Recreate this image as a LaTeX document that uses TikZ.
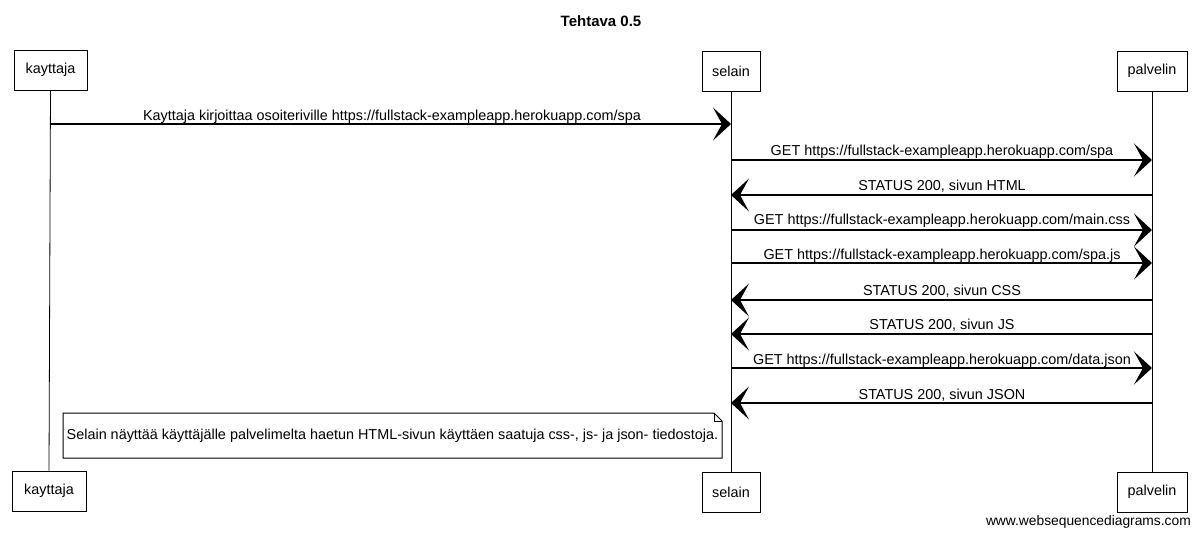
\documentclass[tikz,border=0pt]{standalone}
\usepackage{fontspec}
\setmainfont{Liberation Sans}
\usetikzlibrary{arrows.meta}
\begin{document}
\begin{tikzpicture}[x=1pt,y=-1pt,
  txt/.style={font=\fontsize{14.4}{16}\selectfont, inner sep=0pt},
  part/.style={txt, draw, line width=1pt, minimum height=40pt},
  life/.style={line width=0.8pt},
  msg/.style={line width=1.1pt, -{Stealth[length=18pt,width=33pt,inset=9pt]}},
  lbl/.style={txt, anchor=base},
  notebox/.style={line width=1pt}]
\useasboundingbox (0,0) rectangle (1200,536);

\node[txt, font=\fontsize{15}{17}\selectfont\bfseries, anchor=base] (title) at (601,26) {Tehtava 0.5};

% participants
\node[part, minimum width=73pt] (kt) at (50.5,70) {kayttaja};
\node[part, minimum width=58pt] (st) at (731,71) {selain};
\node[part, minimum width=70pt] (pt) at (1152,71) {palvelin};
\node[part, minimum width=74pt] (kb) at (49,491) {kayttaja};
\node[part, minimum width=58pt] (sb) at (731,492) {selain};
\node[part, minimum width=70pt] (pb) at (1152,492) {palvelin};

% lifelines
\draw[life] (kt.south) -- (kb.north);
\draw[life] (st.south) -- (sb.north);
\draw[life] (pt.south) -- (pb.north);

% message endpoints
\coordinate (k1) at (51,124);   \coordinate (s1) at (731,124);
\foreach \i/\y in {2/160,3/195,4/230,5/263,6/300,7/334,8/368,9/403}{
  \coordinate (s\i) at (731,\y);
  \coordinate (p\i) at (1152,\y);
}

\draw[msg] (k1) -- (s1);
\node[lbl] (l1) at (392,120) {Kayttaja kirjoittaa osoiteriville https://fullstack-exampleapp.herokuapp.com/spa};

\draw[msg] (s2) -- (p2);
\node[lbl] (l2) at (942,155) {GET https://fullstack-exampleapp.herokuapp.com/spa};
\draw[msg] (p3) -- (s3);
\node[lbl] (l3) at (942,190) {STATUS 200, sivun HTML};
\draw[msg] (s4) -- (p4);
\node[lbl] (l4) at (942,224) {GET https://fullstack-exampleapp.herokuapp.com/main.css};
\draw[msg] (s5) -- (p5);
\node[lbl] (l5) at (942,259) {GET https://fullstack-exampleapp.herokuapp.com/spa.js};
\draw[msg] (p6) -- (s6);
\node[lbl] (l6) at (942,295) {STATUS 200, sivun CSS};
\draw[msg] (p7) -- (s7);
\node[lbl] (l7) at (942,329) {STATUS 200, sivun JS};
\draw[msg] (s8) -- (p8);
\node[lbl] (l8) at (942,364) {GET https://fullstack-exampleapp.herokuapp.com/data.json};
\draw[msg] (p9) -- (s9);
\node[lbl] (l9) at (942,399) {STATUS 200, sivun JSON};

% note
\draw[notebox, fill=white] (63,413) -- (714,413) -- (722,421) -- (722,458) -- (63,458) -- cycle;
\draw[notebox] (714,413) -- (714,421) -- (722,421);
\node[txt] (note) at (392.5,436) {Selain näyttää käyttäjälle palvelimelta haetun HTML-sivun käyttäen saatuja css-, js- ja json- tiedostoja.};

\node[txt, font=\fontsize{13.8}{16}\selectfont, anchor=base east] (wm) at (1191,525) {www.websequencediagrams.com};
\end{tikzpicture}
\end{document}
